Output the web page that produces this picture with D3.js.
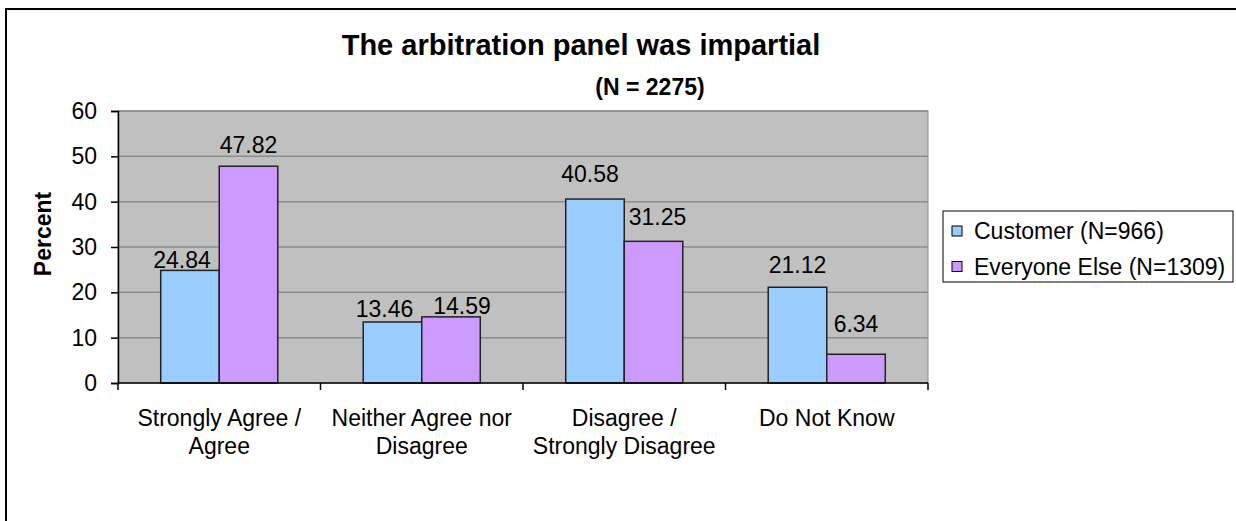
<!DOCTYPE html>
<html>
<head>
<meta charset="utf-8">
<script src="https://cdn.jsdelivr.net/npm/d3@7"></script>
<style>
  body { margin: 0; background: #fff; }
  svg { display: block; font-family: "Liberation Sans", Arial, sans-serif; }
</style>
</head>
<body>
<svg width="1236" height="521"></svg>
<script>
// data
const categories = [
  ['Strongly Agree /', 'Agree'],
  ['Neither Agree nor', 'Disagree'],
  ['Disagree /', 'Strongly Disagree'],
  ['Do Not Know']
];
const seriesNames = ['Customer (N=966)', 'Everyone Else (N=1309)'];
const customer = [24.84, 13.46, 40.58, 21.12];
const everyoneElse = [47.82, 14.59, 31.25, 6.34];
const yTicks = [0, 10, 20, 30, 40, 50, 60];

const colors = ['#99ccff', '#cc99ff'];
const fs = 23;
// label nudges as placed in the original
const labelGap = [[2, 13], [5, 3], [17, 16], [14, 22]];
const labelDx = [[-8, 0], [-8, 11], [-5, 4], [0, 0]];

const svg = d3.select('svg');

// outer frame
svg.append('line').attr('x1', 5).attr('x2', 1236).attr('y1', 9).attr('y2', 9)
  .attr('stroke', '#000').attr('stroke-width', 2);
svg.append('line').attr('x1', 6).attr('x2', 6).attr('y1', 9).attr('y2', 521)
  .attr('stroke', '#000').attr('stroke-width', 2);

const plot = {left: 118, right: 928, top: 111, bottom: 383};
const keys = categories.map(c => c.join(' '));

const x0 = d3.scaleBand().domain(keys).range([plot.left, plot.right]);
const x1 = d3.scaleBand().domain(seriesNames).range([0, x0.bandwidth()]).paddingOuter(0.73);
const y = d3.scaleLinear().domain([0, 60]).range([plot.bottom, plot.top]);

// plot background + grid
svg.append('rect')
  .attr('x', plot.left).attr('y', plot.top)
  .attr('width', plot.right - plot.left).attr('height', plot.bottom - plot.top)
  .attr('fill', '#c0c0c0').attr('stroke', '#8c8c8c').attr('stroke-width', 1);

svg.append('g').selectAll('line')
  .data(yTicks.filter(d => d > 0))
  .enter().append('line')
  .attr('x1', plot.left).attr('x2', plot.right)
  .attr('y1', d => y(d)).attr('y2', d => y(d))
  .attr('stroke', '#8c8c8c').attr('stroke-width', 1.5);

// bars
const rows = keys.map((k, i) => ({key: k, i: i, vals: [customer[i], everyoneElse[i]]}));

const groups = svg.append('g').selectAll('g')
  .data(rows)
  .enter().append('g')
  .attr('transform', d => `translate(${x0(d.key)},0)`);

groups.selectAll('rect')
  .data(d => d.vals.map((v, s) => ({v: v, s: s, i: d.i})))
  .enter().append('rect')
  .attr('x', d => x1(seriesNames[d.s]))
  .attr('y', d => y(d.v))
  .attr('width', x1.bandwidth())
  .attr('height', d => y(0) - y(d.v))
  .attr('fill', d => colors[d.s])
  .attr('stroke', '#222').attr('stroke-width', 1.5);

groups.selectAll('text')
  .data(d => d.vals.map((v, s) => ({v: v, s: s, i: d.i})))
  .enter().append('text')
  .attr('x', d => x1(seriesNames[d.s]) + x1.bandwidth() / 2 + labelDx[d.i][d.s])
  .attr('y', d => y(d.v) - labelGap[d.i][d.s])
  .attr('text-anchor', 'middle')
  .attr('font-size', fs)
  .attr('fill', '#000')
  .text(d => d.v.toFixed(2));

// y axis
const yAxis = svg.append('g')
  .attr('transform', `translate(${plot.left},0)`)
  .call(d3.axisLeft(y).tickValues(yTicks).tickSize(7).tickPadding(14));
yAxis.select('.domain').attr('stroke', '#000').attr('stroke-width', 1.5);
yAxis.selectAll('.tick line').attr('stroke', '#000').attr('stroke-width', 1.5);
yAxis.selectAll('.tick text')
  .attr('font-size', fs).attr('font-family', '"Liberation Sans", Arial, sans-serif')
  .attr('fill', '#000');

// x axis
svg.append('line')
  .attr('x1', plot.left).attr('x2', plot.right)
  .attr('y1', plot.bottom).attr('y2', plot.bottom)
  .attr('stroke', '#000').attr('stroke-width', 1.5);

const bounds = keys.map(k => x0(k)).concat([plot.right]);
svg.append('g').selectAll('line')
  .data(bounds)
  .enter().append('line')
  .attr('x1', d => d).attr('x2', d => d)
  .attr('y1', plot.bottom).attr('y2', plot.bottom + 7)
  .attr('stroke', '#000').attr('stroke-width', 1.5);

const xLabels = svg.append('g').selectAll('text')
  .data(categories)
  .enter().append('text')
  .attr('text-anchor', 'middle')
  .attr('font-size', fs)
  .attr('fill', '#000')
  .attr('transform', (d, i) => `translate(${x0(keys[i]) + x0.bandwidth() / 2},426)`);
xLabels.selectAll('tspan')
  .data(d => d)
  .enter().append('tspan')
  .attr('x', 0)
  .attr('dy', (d, j) => j === 0 ? 0 : 28)
  .text(d => d);

// y axis title
svg.append('text')
  .attr('transform', 'translate(43,234) rotate(-90)')
  .attr('text-anchor', 'middle')
  .attr('dominant-baseline', 'central')
  .attr('font-size', fs).attr('font-weight', 'bold')
  .text('Percent');

// titles
svg.append('text')
  .attr('x', 581).attr('y', 55)
  .attr('text-anchor', 'middle')
  .attr('font-size', 29).attr('font-weight', 'bold')
  .text('The arbitration panel was impartial');

svg.append('text')
  .attr('x', 650).attr('y', 95)
  .attr('text-anchor', 'middle')
  .attr('font-size', fs).attr('font-weight', 'bold')
  .text('(N = 2275)');

// legend
const legend = svg.append('g').attr('transform', 'translate(943,211)');
legend.append('rect')
  .attr('width', 290).attr('height', 71)
  .attr('fill', '#fff').attr('stroke', '#000').attr('stroke-width', 1);
const items = legend.selectAll('g.item')
  .data(seriesNames)
  .enter().append('g')
  .attr('transform', (d, i) => `translate(9,${20 + i * 35.5})`);
items.append('rect')
  .attr('y', -5).attr('width', 10).attr('height', 10)
  .attr('fill', (d, i) => colors[i]).attr('stroke', '#000').attr('stroke-width', 1);
items.append('text')
  .attr('x', 22)
  .attr('dominant-baseline', 'central')
  .attr('font-size', fs)
  .text(d => d);
</script>
</body>
</html>
